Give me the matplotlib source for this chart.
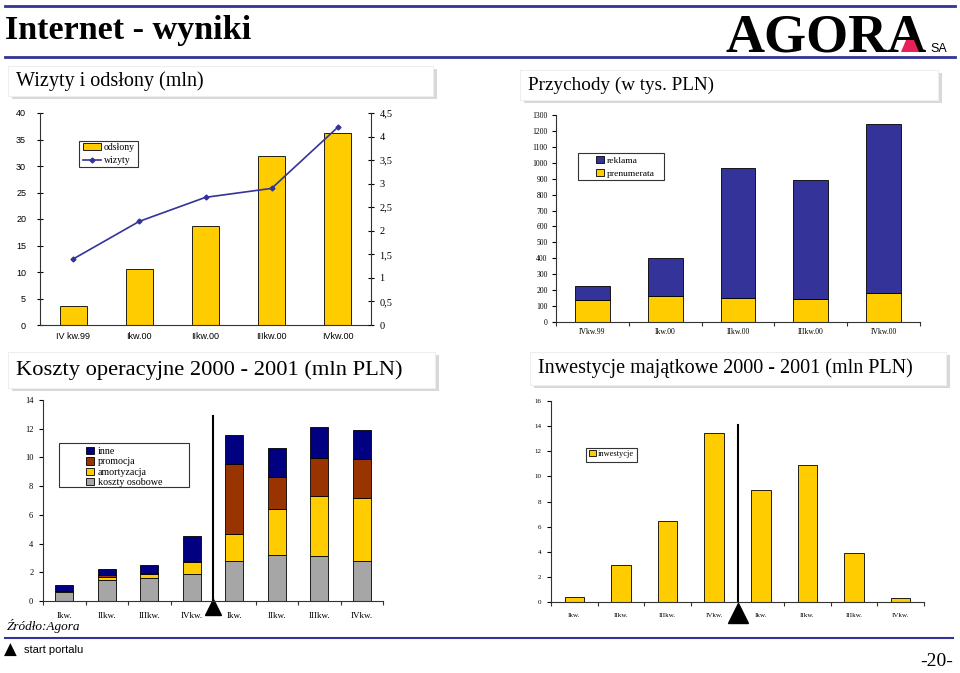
import numpy as np
import matplotlib
matplotlib.use('Agg')
import matplotlib.pyplot as plt
from matplotlib.patches import Rectangle, Patch, Polygon
from matplotlib.lines import Line2D

SERIF = 'Liberation Serif'
SANS = 'Liberation Sans'
NAVY = '#333399'
YELLOW = '#FFCC00'

# --- data -------------------------------------------------------------
q_top = ['IV kw.99', 'Ikw.00', 'IIkw.00', 'IIIkw.00', 'IVkw.00']
odslony = [3.5, 10.5, 18.7, 31.8, 36.3]
wizyty = [1.40, 2.20, 2.71, 2.90, 4.20]

q_rev = ['IVkw.99', 'Ikw.00', 'IIkw.00', 'IIIkw.00', 'IVkw.00']
prenumerata = [138, 165, 150, 142, 183]
reklama = [89, 240, 818, 748, 1062]

q_bot = ['Ikw.', 'IIkw.', 'IIIkw.', 'IVkw.', 'Ikw.', 'IIkw.', 'IIIkw.', 'IVkw.']
koszty_osobowe = [0.62, 1.45, 1.58, 1.90, 2.82, 3.23, 3.12, 2.82]
amortyzacja = [0.07, 0.22, 0.30, 0.81, 1.86, 3.15, 4.17, 4.36]
promocja = [0.04, 0.16, 0.05, 0.11, 4.88, 2.27, 2.69, 2.68]
inne = [0.35, 0.39, 0.59, 1.74, 2.02, 2.04, 2.11, 2.04]

inwestycje = [0.37, 2.92, 6.42, 13.47, 8.89, 10.92, 3.92, 0.29]

W, H = 960, 673
fig = plt.figure(figsize=(W / 100, H / 100), dpi=100)
fig.patch.set_facecolor('white')


def add_ax(x0, y0, x1, y1):
    return fig.add_axes([x0 / W, 1 - y1 / H, (x1 - x0) / W, (y1 - y0) / H])


def fx(x):
    return x / W


def fy(y):
    return 1 - y / H


def hline(y, x0, x1, lw=2.0):
    fig.add_artist(Line2D([fx(x0), fx(x1)], [fy(y), fy(y)], color=NAVY, lw=lw,
                          transform=fig.transFigure))


def rect(x0, y0, x1, y1, face='white', edge='#333333', lw=0.8, z=4):
    return Rectangle((fx(x0), fy(y1)), (x1 - x0) / W, (y1 - y0) / H,
                     transform=fig.transFigure, facecolor=face,
                     edgecolor=edge, lw=lw, zorder=z)


def title_box(x0, y0, x1, y1, text, fs=16):
    fig.add_artist(rect(x0 + 4, y0 + 3, x1 + 4, y1 + 3, face='#d8d8d8', edge='none', z=1))
    fig.add_artist(rect(x0, y0, x1, y1, edge='#eeeeee', z=2))
    fig.text(fx(x0 + 8), fy((y0 + y1) / 2), text, family=SERIF, fontsize=fs,
             va='center', ha='left', zorder=3)


def style_axes(ax, color='#333333'):
    for s in ['top', 'right']:
        ax.spines[s].set_visible(False)
    for s in ['left', 'bottom']:
        ax.spines[s].set_color(color)
        ax.spines[s].set_linewidth(0.8)
    ax.set_facecolor('none')


def cat_ticks(ax, labels, fs, family=SERIF, pad=4):
    n = len(labels)
    ax.set_xlim(-0.5, n - 0.5)
    ax.set_xticks(np.arange(-0.5, n, 1.0))
    ax.set_xticklabels([])
    ax.set_xticks(np.arange(n), minor=True)
    ax.set_xticklabels(labels, minor=True, family=family, fontsize=fs)
    ax.tick_params(axis='x', which='major', length=3, direction='out', color='#333333')
    ax.tick_params(axis='x', which='minor', length=0, pad=pad)


def boxed_legend(ax, handles, box, anchor, fs, **kw):
    fr = rect(*box, z=5.5)
    fr.set_clip_on(False)
    ax.add_artist(fr)
    leg = ax.legend(handles=handles, loc='upper left', bbox_to_anchor=(fx(anchor[0]), fy(anchor[1])),
                    bbox_transform=fig.transFigure, prop={'family': SERIF, 'size': fs},
                    frameon=False, borderpad=0, borderaxespad=0, **kw)
    leg.set_zorder(6)
    return leg


# --- header -------------------------------------------------------------
hline(6, 5, 955)
hline(57, 5, 955)
fig.text(fx(5), fy(31), 'Internet - wyniki', family=SERIF, fontweight='bold',
         fontsize=24.6, va='center', ha='left')
fig.text(fx(927), fy(52), 'AGORA', family=SERIF, fontweight='bold',
         fontsize=39, va='baseline', ha='right', zorder=2)
fig.add_artist(Polygon([(fx(901), fy(52)), (fx(919), fy(52)), (fx(914), fy(40)),
                        (fx(906), fy(40))], closed=True, transform=fig.transFigure,
                       facecolor='#E8205A', edgecolor='none', zorder=4))
fig.text(fx(930), fy(52), 'SA', family=SANS, fontsize=9, va='baseline', ha='left')

# --- panel titles ---------------------------------------------------------
title_box(8, 66, 433, 96, 'Wizyty i odsłony (mln)', fs=14.5)
title_box(520, 70, 938, 100, 'Przychody (w tys. PLN)', fs=13.8)
title_box(8, 352, 435, 388, 'Koszty operacyjne 2000 - 2001 (mln PLN)', fs=16.2)
title_box(530, 352, 946, 385, 'Inwestycje majątkowe 2000 - 2001 (mln PLN)', fs=14.5)

# --- top left: visits and page views -------------------------------------
ax1 = add_ax(40, 113, 371, 325)
x5 = np.arange(len(q_top))
ax1.bar(x5, odslony, width=0.41, color=YELLOW, edgecolor='black', lw=0.6)
ax1.set_ylim(0, 40)
ax1.set_yticks(np.arange(0, 41, 5))
ax1.set_xlim(-0.5, 4.5)
ax1.set_xticks(x5)
ax1.set_xticklabels(q_top, family=SANS, fontsize=6.5)
ax1.tick_params(axis='x', length=0, pad=5)
ax1.tick_params(axis='y', direction='inout', length=4, labelsize=6.5, pad=8)
for lab in ax1.get_yticklabels():
    lab.set_family(SANS)
style_axes(ax1)
ax2 = ax1.twinx()
ax2.plot(x5, wizyty, color=NAVY, lw=1.2, marker='D', ms=2.5)
ax2.set_ylim(0, 4.5)
rt = np.arange(0, 4.51, 0.5)
ax2.set_yticks(rt)
ax2.set_yticklabels([('%g' % v).replace('.', ',') for v in rt], family=SERIF,
                    fontsize=7.5)
ax2.tick_params(axis='y', direction='inout', length=4, pad=4)
for s in ['top', 'left', 'bottom']:
    ax2.spines[s].set_visible(False)
ax2.spines['right'].set_color('#333333')
ax2.spines['right'].set_linewidth(0.8)
h1 = [Patch(facecolor=YELLOW, edgecolor='black', lw=0.6, label='odsłony'),
      Line2D([], [], color=NAVY, lw=1.2, marker='D', ms=2.5, label='wizyty')]
boxed_legend(ax2, h1, (79, 141, 138, 167), (83, 143), 7, handlelength=1.9,
             handleheight=0.7, labelspacing=0.45, handletextpad=0.25)

# --- top right: revenue -------------------------------------------------
ax3 = add_ax(556, 115, 920, 322)
ax3.bar(x5, prenumerata, width=0.48, color=YELLOW, edgecolor='black', lw=0.6)
ax3.bar(x5, reklama, width=0.48, bottom=prenumerata, color=NAVY,
        edgecolor='black', lw=0.6)
ax3.set_ylim(0, 1300)
ax3.set_yticks(np.arange(0, 1301, 100))
ax3.tick_params(axis='y', direction='out', length=3, labelsize=5.5, pad=3)
for lab in ax3.get_yticklabels():
    lab.set_family(SERIF)
cat_ticks(ax3, q_rev, 5.5)
style_axes(ax3)
h3 = [Patch(facecolor=NAVY, edgecolor='black', lw=0.6, label='reklama'),
      Patch(facecolor=YELLOW, edgecolor='black', lw=0.6, label='prenumerata')]
boxed_legend(ax3, h3, (578, 153, 664, 180), (596, 156), 6.8, handlelength=0.8,
             handleheight=0.8, labelspacing=0.4, handletextpad=0.3)

# --- bottom left: operating costs ---------------------------------------
ax4 = add_ax(43, 400, 383, 601)
x8 = np.arange(len(q_bot))
b1 = np.array(koszty_osobowe)
b2 = b1 + np.array(amortyzacja)
b3 = b2 + np.array(promocja)
kw = dict(width=0.42, edgecolor='black', lw=0.6)
ax4.bar(x8, koszty_osobowe, color='#A6A6A6', **kw)
ax4.bar(x8, amortyzacja, bottom=b1, color=YELLOW, **kw)
ax4.bar(x8, promocja, bottom=b2, color='#993300', **kw)
ax4.bar(x8, inne, bottom=b3, color='#000080', **kw)
ax4.set_ylim(0, 14)
ax4.set_yticks(np.arange(0, 15, 2))
ax4.tick_params(axis='y', direction='out', length=3, labelsize=6, pad=4)
for lab in ax4.get_yticklabels():
    lab.set_family(SERIF)
cat_ticks(ax4, q_bot, 6.5, pad=8)
style_axes(ax4)
ax4.plot([3.5, 3.5], [0, 12.9], color='black', lw=1.5)
ax4.plot([3.5], [-0.42], marker='^', color='black', ms=12, clip_on=False)
h4 = [Patch(facecolor='#000080', edgecolor='black', lw=0.6, label='inne'),
      Patch(facecolor='#993300', edgecolor='black', lw=0.6, label='promocja'),
      Patch(facecolor=YELLOW, edgecolor='black', lw=0.6, label='amortyzacja'),
      Patch(facecolor='#A6A6A6', edgecolor='black', lw=0.6, label='koszty osobowe')]
boxed_legend(ax4, h4, (59, 443, 189, 487), (86, 447), 7.2, handlelength=0.75,
             handleheight=0.75, labelspacing=0.12, handletextpad=0.4)

# --- bottom right: capital expenditure ------------------------------------
ax5 = add_ax(551, 401, 924, 602)
ax5.bar(x8, inwestycje, width=0.42, color=YELLOW, edgecolor='black', lw=0.6)
ax5.set_ylim(0, 16)
ax5.set_yticks(np.arange(0, 17, 2))
ax5.tick_params(axis='y', direction='out', length=3, labelsize=5, pad=4)
for lab in ax5.get_yticklabels():
    lab.set_family(SERIF)
cat_ticks(ax5, q_bot, 5, pad=8)
style_axes(ax5)
ax5.plot([3.5, 3.5], [0, 14.1], color='black', lw=1.5)
ax5.plot([3.5], [-0.88], marker='^', color='black', ms=14, clip_on=False)
h5 = [Patch(facecolor=YELLOW, edgecolor='black', lw=0.6, label='inwestycje')]
boxed_legend(ax5, h5, (586, 448, 637, 462), (589, 450), 6, handlelength=0.8,
             handleheight=0.8, handletextpad=0.3)

# --- footer -------------------------------------------------------------
fig.text(fx(7), fy(626), 'Źródło:Agora', family=SERIF, style='italic',
         fontsize=9.5, va='center', ha='left')
hline(638, 5, 953, lw=1.5)
fig.text(fx(4), fy(650), '▲', family='DejaVu Sans', fontsize=12, va='center',
         ha='left')
fig.text(fx(24), fy(650), 'start portalu', family=SANS, fontsize=8,
         va='center', ha='left')
fig.text(fx(953), fy(662), '-20-', family=SERIF, fontsize=14, va='center',
         ha='right')

fig.savefig('out.png', dpi=100)
